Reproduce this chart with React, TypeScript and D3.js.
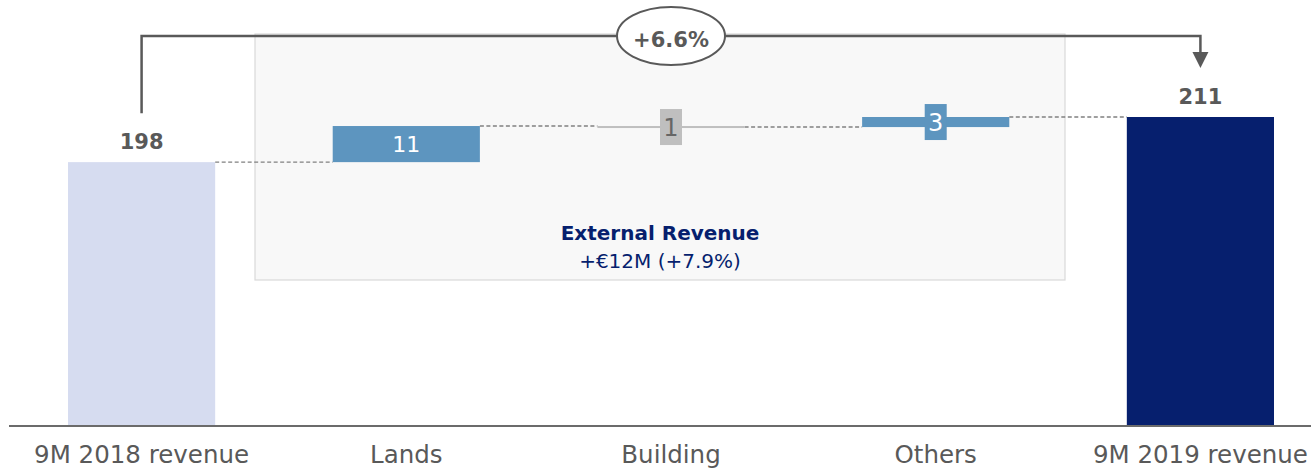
import React from 'react';
import * as d3 from 'd3';

const width = 1311;
const height = 471;

const categories = ['9M 2018 revenue', 'Lands', 'Building', 'Others', '9M 2019 revenue'];
const startValue = 198;
const endValue = 211;
const deltaValues = [10.4, -0.3, 2.9];
const deltaLabels = ['11', '1', '3'];
const growthLabel = '+6.6%';
const groupTitle = 'External Revenue';
const groupSubtitle = '+€12M (+7.9%)';

const font = '"DejaVu Sans", sans-serif';
const grey = '#595959';
const navy = '#061f6e';
const blue = '#5d95bf';

const x = d3.scaleBand<string>().domain(categories).range([68, 1274]).paddingInner(0.444).paddingOuter(0);
const y = d3.scaleLinear().domain([122, 211]).range([426, 117]);

export default function App() {
  const bw = x.bandwidth();
  const cx = (c: string) => (x(c) as number) + bw / 2;

  // running totals for the waterfall steps
  let run = startValue;
  const steps = deltaValues.map((v, i) => {
    const from = run;
    run += v;
    return { cat: categories[i + 1], from, to: run, value: v, label: deltaLabels[i] };
  });

  const levels = [startValue, ...steps.map(s => s.to)];
  const connectors = levels.map((lv, i) => ({
    x1: (x(categories[i]) as number) + bw,
    x2: x(categories[i + 1]) as number,
    y: y(lv),
  }));

  const first = categories[0];
  const last = categories[categories.length - 1];
  const bracketY = 36;
  const bracketStart = y(startValue) - 49;
  const arrowTip = y(endValue) - 49;
  const midX = cx(categories[2]);

  return (
    <svg width={width} height={height} style={{ position: 'absolute', left: 0, top: 0 }} fontFamily={font}>
      <rect x={255} y={34} width={810} height={246} fill="#f8f8f8" stroke="#d9d9d9" strokeWidth={1.2} />

      {/* total bars */}
      <rect x={x(first)} y={y(startValue)} width={bw} height={y.range()[0] - y(startValue)} fill="#d6dcf0" />
      <rect x={x(last)} y={y(endValue)} width={bw} height={y.range()[0] - y(endValue)} fill={navy} />

      {connectors.map((c, i) => (
        <line key={i} x1={c.x1} x2={c.x2} y1={c.y} y2={c.y} stroke="#808080" strokeWidth={1.4} strokeDasharray="4,2.5" />
      ))}

      {steps.map((s, i) => {
        const top = y(Math.max(s.from, s.to));
        const h = Math.max(2, Math.abs(y(s.from) - y(s.to)));
        const color = s.value < 0 ? '#bfbfbf' : blue;
        const mid = top + h / 2;
        const small = h < 30;
        return (
          <g key={i}>
            <rect x={x(s.cat)} y={top} width={bw} height={h} fill={color} />
            {small && <rect x={cx(s.cat) - 11} y={mid - 18} width={22} height={36} fill={color} />}
            <text x={cx(s.cat)} y={mid} dy="0.36em" textAnchor="middle" fontSize={small ? 24 : 22}
              fill={s.value < 0 ? '#666666' : '#ffffff'}>{s.label}</text>
          </g>
        );
      })}

      {/* value labels of totals */}
      <text x={cx(first)} y={y(startValue) - 13} textAnchor="middle" fontSize={21} fontWeight="bold" fill={grey}>{startValue}</text>
      <text x={cx(last)} y={y(endValue) - 13} textAnchor="middle" fontSize={21} fontWeight="bold" fill={grey}>{endValue}</text>

      {/* growth bracket */}
      <path d={`M${cx(first)},${bracketStart}V${bracketY}H${cx(last)}V${arrowTip - 16}`} fill="none" stroke={grey} strokeWidth={2.5} />
      <path d={`M${cx(last) - 8},${arrowTip - 16}L${cx(last) + 8},${arrowTip - 16}L${cx(last)},${arrowTip}Z`} fill={grey} />
      <ellipse cx={midX} cy={bracketY} rx={54} ry={29} fill="#ffffff" stroke={grey} strokeWidth={2} />
      <text x={midX} y={bracketY + 11} textAnchor="middle" fontSize={21} fontWeight="bold" fill={grey}>{growthLabel}</text>

      <text x={660} y={240} textAnchor="middle" fontSize={20} fontWeight="bold" fill={navy}>{groupTitle}</text>
      <text x={660} y={268} textAnchor="middle" fontSize={20} fill={navy}>{groupSubtitle}</text>

      {/* axis */}
      <line x1={9} x2={width} y1={426} y2={426} stroke="#6b6b6b" strokeWidth={2} />
      {categories.map(c => (
        <text key={c} x={cx(c)} y={463} textAnchor="middle" fontSize={24.5} fill={grey}>{c}</text>
      ))}
    </svg>
  );
}
